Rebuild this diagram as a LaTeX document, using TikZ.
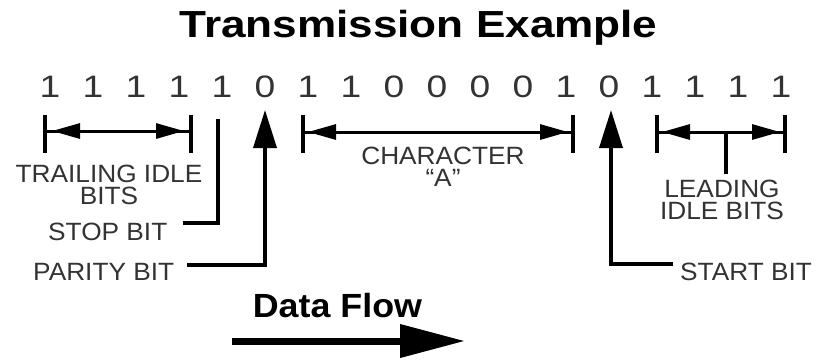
\documentclass[tikz,border=0pt]{standalone}
\usepackage{fontspec}
\setmainfont{Liberation Sans}
\newfontfamily\titlefont[FakeStretch=1.17]{Liberation Sans}
\newfontfamily\flowfont[FakeStretch=1.07]{Liberation Sans}
\newfontfamily\digitfont[FakeStretch=1.2]{Liberation Sans}
\newfontfamily\lblfont[FakeStretch=1.05]{Liberation Sans}
\usetikzlibrary{arrows.meta}
\definecolor{txt}{HTML}{333333}
\begin{document}
\begin{tikzpicture}[x=1pt,y=-1pt,
  lbl/.style={inner sep=0pt, text=txt, font=\lblfont\fontsize{25}{22}\selectfont, align=center},
  digit/.style={inner sep=0pt, anchor=base, text=txt, font=\digitfont\fontsize{31}{31}\selectfont},
  tick/.style={line width=4pt},
  hline/.style={line width=3pt},
  bheads/.style={line width=3pt, {Triangle[length=28pt,width=15pt]}-{Triangle[length=28pt,width=15pt]}, shorten <=5pt, shorten >=5pt},
  conn/.style={line width=3.5pt},
  uparrow/.style={line width=3.5pt, -{Triangle[length=38pt,width=23pt]}},
]
\useasboundingbox (0,0) rectangle (819,360);
\fill[white] (0,0) rectangle (819,360);

% title
\node[anchor=base, inner sep=0pt, font=\titlefont\bfseries\fontsize{37.7}{40}\selectfont] (title) at (418.5,37) {Transmission Example};

% bits
\foreach \b [count=\i from 0] in {1,1,1,1,1,0,1,1,0,0,0,0,1,0,1,1,1,1}
  \node[digit] (d\i) at (50+43*\i,97) {\b};

% trailing idle bits bracket
\coordinate (tAt) at (45,115); \coordinate (tAb) at (45,153);
\coordinate (tBt) at (191,115); \coordinate (tBb) at (191,153);
\coordinate (tL) at (45,131); \coordinate (tR) at (191,131);
\draw[tick] (tAt) -- (tAb);
\draw[tick] (tBt) -- (tBb);
\draw[hline] (tL) -- (tR);
\draw[bheads, shorten <=7pt, shorten >=7pt] (tL) -- (tR);
\node[lbl, anchor=north] (trail) at (109,165) {TRAILING IDLE\\BITS};

% stop bit
\coordinate (stopTop) at (218,119);
\coordinate (stopEnd) at (183,223);
\draw[conn] (stopEnd) -| (stopTop);
\node[lbl, anchor=base west] (stop) at (48,240) {STOP BIT};

% parity bit
\coordinate (parTip) at (265,110);
\coordinate (parEnd) at (187,265);
\draw[uparrow] (parEnd) -| (parTip);
\node[lbl, anchor=base west] (parity) at (33,280) {PARITY BIT};

% character bracket
\coordinate (cAt) at (303,115); \coordinate (cAb) at (303,153);
\coordinate (cBt) at (573,115); \coordinate (cBb) at (573,153);
\coordinate (cL) at (303,132); \coordinate (cR) at (573,132);
\draw[tick] (cAt) -- (cAb);
\draw[tick] (cBt) -- (cBb);
\draw[hline] (cL) -- (cR);
\draw[bheads] (cL) -- (cR);
\node[lbl, anchor=north] (char) at (443,147) {CHARACTER\\“A”};

% start bit
\coordinate (startTip) at (611,110);
\coordinate (startEnd) at (673,264);
\draw[uparrow] (startEnd) -| (startTip);
\node[lbl, anchor=base west] (start) at (680,280) {START BIT};

% leading idle bits bracket
\coordinate (lAt) at (657,115); \coordinate (lAb) at (657,153);
\coordinate (lBt) at (785,115); \coordinate (lBb) at (785,153);
\coordinate (lL) at (657,132); \coordinate (lR) at (785,132);
\coordinate (lStemB) at (726,174); \coordinate (lStemT) at (726,132);
\draw[tick] (lAt) -- (lAb);
\draw[tick] (lBt) -- (lBb);
\draw[hline] (lL) -- (lR);
\draw[bheads] (lL) -- (lR);
\draw[tick] (lStemT) -- (lStemB);
\node[lbl, anchor=north] (lead) at (722,180) {LEADING\\IDLE BITS};

% data flow
\node[anchor=base, inner sep=0pt, font=\flowfont\bfseries\fontsize{33.5}{36}\selectfont] (flow) at (337.5,317) {Data Flow};
\coordinate (fA) at (232,341); \coordinate (fB) at (465,341);
\draw[line width=7pt, -{Triangle[length=65pt,width=32pt]}] (fA) -- (fB);
\end{tikzpicture}
\end{document}
